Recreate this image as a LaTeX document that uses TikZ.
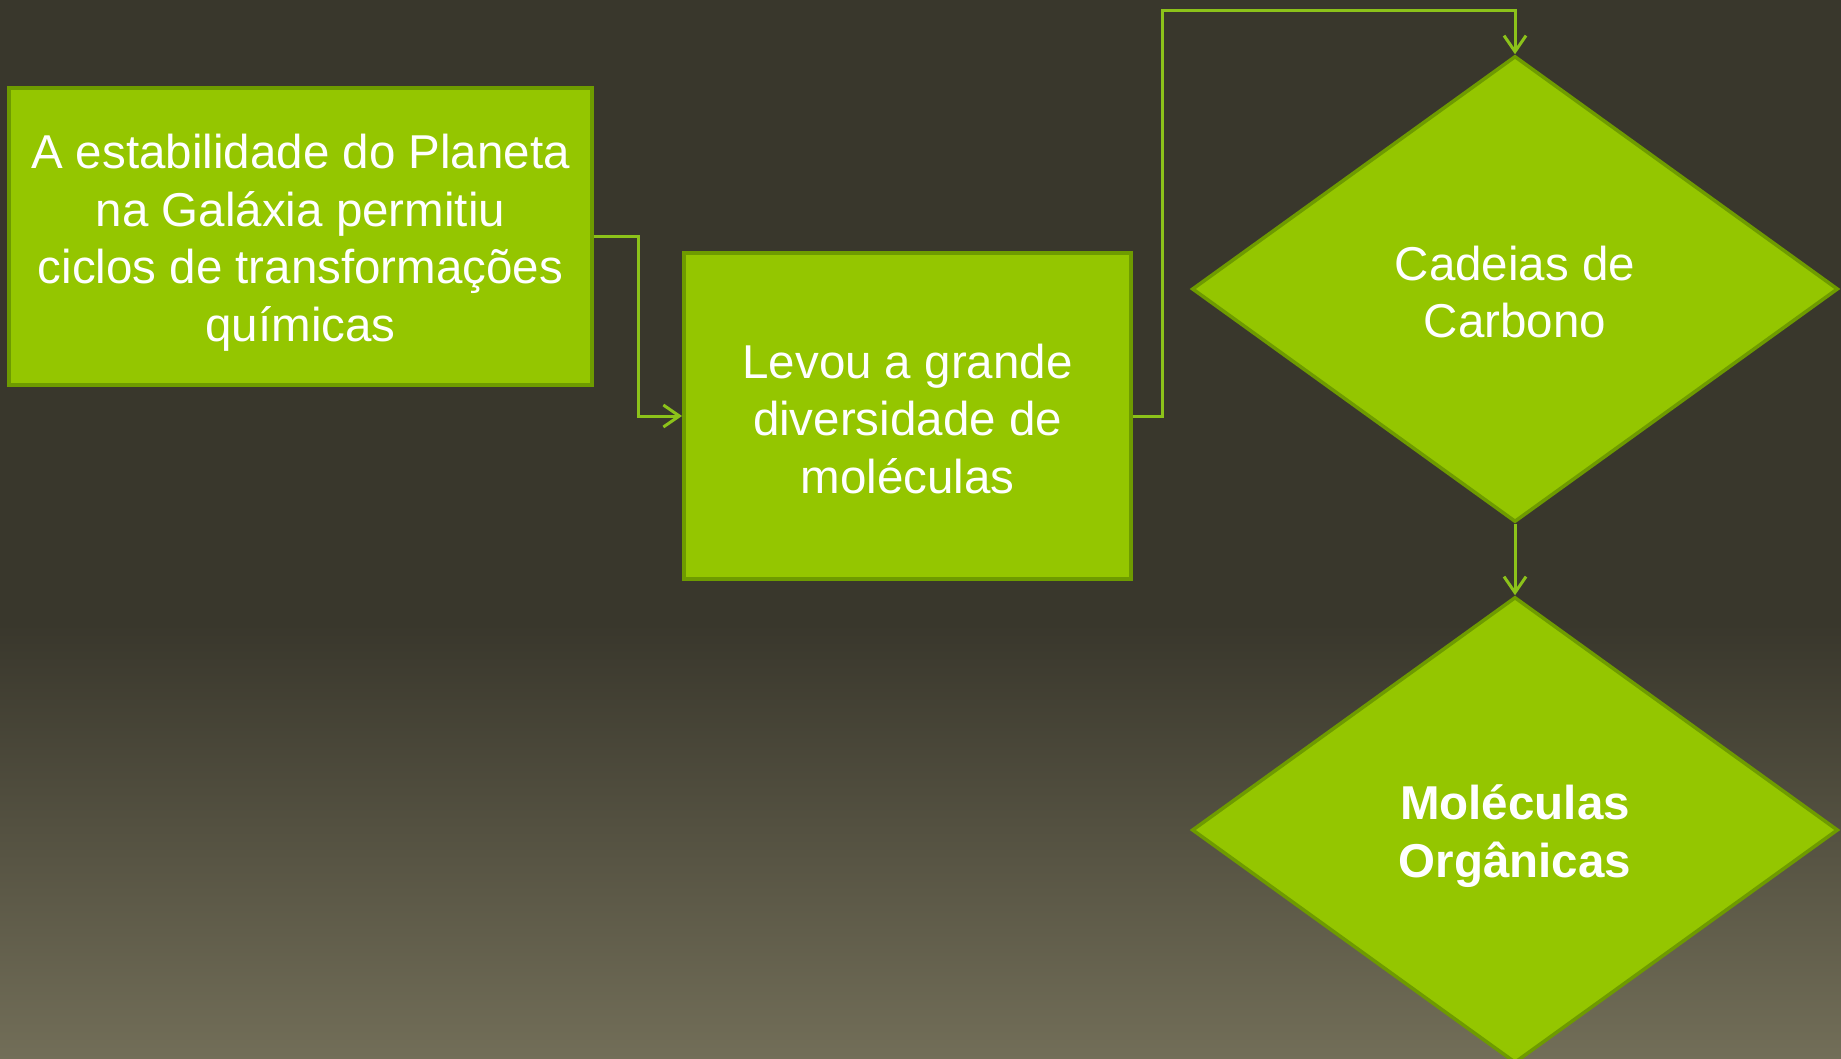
\documentclass[tikz,border=0pt]{standalone}
\usepackage{fontspec}
\setmainfont{Liberation Sans}
\usetikzlibrary{arrows.meta,shapes.geometric}
\definecolor{bgdark}{HTML}{39372C}
\definecolor{bglight}{HTML}{726E58}
\definecolor{boxfill}{HTML}{94C600}
\definecolor{boxline}{HTML}{6E9B00}
\definecolor{conn}{HTML}{8CC21A}
\begin{document}
\begin{tikzpicture}[x=1pt,y=-1pt,
  box/.style={draw=boxline, fill=boxfill, line width=4pt, inner sep=0pt},
  dia/.style={diamond, draw=boxline, fill=boxfill, line width=3.5pt,
    inner sep=0pt, minimum width=646pt, minimum height=466pt},
  lbl/.style={text=white, align=center, font=\fontsize{47.5}{57.5}\selectfont, inner sep=0pt},
  link/.style={draw=conn, line width=3pt, -{Straight Barb[length=16pt,width=22pt]}}]
\path[use as bounding box] (0,0) rectangle (1841,1059);
\fill[bgdark] (0,0) rectangle (1841,625);
\shade[top color=bgdark, bottom color=bglight] (0,624) rectangle (1841,1059);
\node[box, minimum width=583pt, minimum height=297pt] (a) at (300.5,236.5) {};
\node[lbl, yshift=-6pt] (at) at (a.center)
  {A estabilidade do Planeta\\na Galáxia permitiu\\ciclos de transformações\\químicas};
\node[box, minimum width=447pt, minimum height=326pt] (b) at (907.5,416) {};
\node[lbl, yshift=-3pt] (bt) at (b.center) {Levou a grande\\diversidade de\\moléculas};
\node[dia] (c) at (1515,289) {};
\node[lbl, yshift=-3pt] (ct) at (c.center) {Cadeias de\\Carbono};
\node[dia] (d) at (1515,830) {};
\node[lbl, yshift=-6pt, font=\fontsize{47.5}{57.5}\selectfont\bfseries] (dt) at (d.center) {Moléculas\\Orgânicas};
\draw[link] (a.east) -- ++(44,0) |- (b.west);
\draw[link] (b.east) -- ++(29,0) |- ([yshift=44pt]c.north) -- (c.north);
\draw[link] (c.south) -- (d.north);
\end{tikzpicture}
\end{document}
